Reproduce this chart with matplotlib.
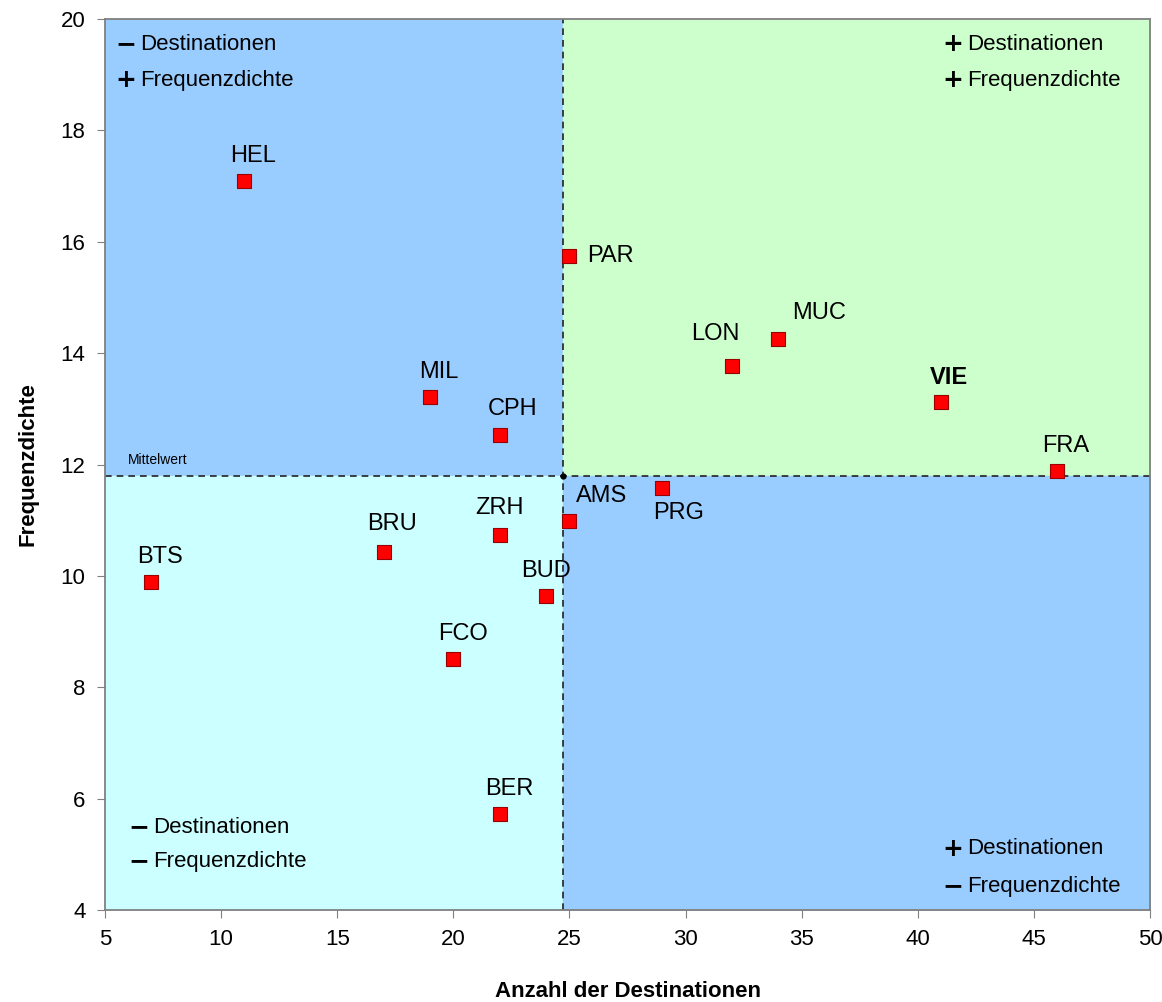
import matplotlib.pyplot as plt

plt.rcParams['font.family'] = ['Liberation Sans', 'DejaVu Sans']

# Daten: Flughafen, Anzahl der Destinationen, Frequenzdichte
codes = ['HEL', 'PAR', 'LON', 'MUC', 'VIE', 'FRA', 'MIL', 'CPH', 'AMS', 'PRG',
         'ZRH', 'BRU', 'BTS', 'BUD', 'FCO', 'BER']
destinationen = [11, 25, 32, 34, 41, 46, 19, 22, 25, 29, 22, 17, 7, 24, 20, 22]
frequenzdichte = [17.1, 15.75, 13.77, 14.25, 13.12, 11.89, 13.21, 12.53, 10.99, 11.58,
                  10.74, 10.43, 9.89, 9.64, 8.51, 5.73]
mittel_x = 24.72
mittel_y = 11.8

# Label-Versatz in Punkten (dx, dy)
offsets = {'HEL': (6, 18), 'PAR': (13, 0), 'LON': (-12, 23), 'MUC': (29, 19),
           'VIE': (6, 18), 'FRA': (6, 18), 'MIL': (6, 18), 'CPH': (9, 19),
           'AMS': (23, 18), 'PRG': (12, -18), 'ZRH': (0, 19), 'BRU': (6, 20),
           'BTS': (6, 18), 'BUD': (0, 18), 'FCO': (7, 18), 'BER': (7, 18)}

fig = plt.figure(figsize=(11.62, 10.02), dpi=100)
ax = fig.add_axes([0.0904, 0.0918, 0.8993, 0.8892])
ax.set_xlim(5, 50)
ax.set_ylim(4, 20)

# Quadranten
ax.fill_between([5, mittel_x], mittel_y, 20, color='#99ccff', zorder=0)
ax.fill_between([mittel_x, 50], mittel_y, 20, color='#ccffcc', zorder=0)
ax.fill_between([5, mittel_x], 4, mittel_y, color='#ccffff', zorder=0)
ax.fill_between([mittel_x, 50], 4, mittel_y, color='#99ccff', zorder=0)

ax.axvline(mittel_x, color='#222222', lw=1.2, ls=(0, (4, 3)), zorder=1)
ax.axhline(mittel_y, color='#222222', lw=1.2, ls=(0, (4, 3)), zorder=1)
ax.plot([mittel_x], [mittel_y], 'o', color='black', ms=3.5, zorder=2)
ax.text(6.0, mittel_y + 0.15, 'Mittelwert', fontsize=10, va='bottom', ha='left')

ax.scatter(destinationen, frequenzdichte, marker='s', s=95, c='#ff0000',
           edgecolors='#990000', linewidths=0.8, zorder=3)
for code, x, y in zip(codes, destinationen, frequenzdichte):
    dx, dy = offsets[code]
    ax.annotate(code, (x, y), xytext=(dx, dy), textcoords='offset points',
                ha='left' if code == 'PAR' else 'center', va='center',
                fontsize=17, fontweight='bold' if code == 'VIE' else 'normal')

# Quadranten-Beschriftung: (x, y oben, y unten, Zeichen 1, Zeichen 2)
quad = [(5.43, 19.55, 18.9, '−', '+'), (41.05, 19.55, 18.9, '+', '+'),
        (5.99, 5.49, 4.87, '−', '−'), (41.05, 5.10, 4.43, '+', '−')]
for qx, qy1, qy2, s1, s2 in quad:
    for qy, s, word in ((qy1, s1, 'Destinationen'), (qy2, s2, 'Frequenzdichte')):
        ax.text(qx, qy, s, fontsize=18, fontweight='bold', ha='left', va='center',
                family='DejaVu Sans')
        ax.annotate(word, (qx, qy), xytext=(18, 0), textcoords='offset points',
                    fontsize=16, ha='left', va='center')

ax.set_xticks(range(5, 51, 5))
ax.set_yticks(range(4, 21, 2))
ax.tick_params(axis='both', labelsize=16, direction='out', length=6,
               color='#808080', pad=8)
for sp in ax.spines.values():
    sp.set_color('#808080')
    sp.set_linewidth(1.3)

ax.set_xlabel('Anzahl der Destinationen', fontsize=16, fontweight='bold', labelpad=22)
ax.set_ylabel('Frequenzdichte', fontsize=16, fontweight='bold', labelpad=16)

plt.savefig('out.png', dpi=100)
